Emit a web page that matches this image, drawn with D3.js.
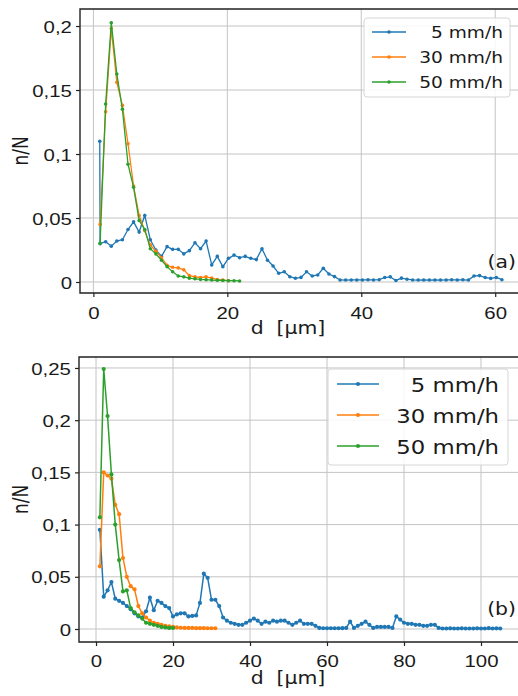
<!DOCTYPE html>
<html>
<head>
<meta charset="utf-8">
<script src="https://cdn.jsdelivr.net/npm/d3@7"></script>
<style>
  body { margin: 0; background: #fff; }
  svg { display: block; font-family: "DejaVu Sans", sans-serif; }
</style>
</head>
<body>
<svg id="chart" width="518" height="696"></svg>
<script>
// ---- data ----
const seriesNames = ['5 mm/h', '30 mm/h', '50 mm/h'];
const colors = ['#1f77b4', '#ff7f0e', '#2ca02c'];

// panel (a): bin centres in µm
const dA = [1.0, 1.83, 2.67, 3.5, 4.33, 5.17, 6.0, 6.83, 7.67, 8.5, 9.33, 10.17, 11.0, 11.83, 12.67,
  13.5, 14.33, 15.17, 16.0, 16.83, 17.67, 18.5, 19.33, 20.17, 21.0, 21.83, 22.67, 23.5, 24.33, 25.17,
  26.0, 26.83, 27.67, 28.5, 29.33, 30.17, 31.0, 31.83, 32.67, 33.5, 34.33, 35.17, 36.0, 36.83, 37.67,
  38.5, 39.33, 40.17, 41.0, 41.83, 42.67, 43.5, 44.33, 45.17, 46.0, 46.83, 47.67, 48.5, 49.33, 50.17,
  51.0, 51.83, 52.67, 53.5, 54.33, 55.17, 56.0, 56.83, 57.67, 58.5, 59.33, 60.17, 61.0];
const dA5 = [0.95].concat(dA);
const nA5 = [0.110, 0.030, 0.0315, 0.028, 0.032, 0.033, 0.041, 0.047, 0.039, 0.052, 0.033, 0.025, 0.020,
  0.0276, 0.0255, 0.0255, 0.022, 0.0245, 0.0307, 0.026, 0.032, 0.0133, 0.020, 0.012, 0.0185, 0.021, 0.019,
  0.020, 0.0185, 0.0175, 0.026, 0.017, 0.0125, 0.0068, 0.008, 0.0041, 0.0029, 0.0036, 0.008, 0.0047,
  0.0055, 0.0107, 0.0062, 0.0042, 0.0016, 0.0015, 0.0016, 0.0016, 0.0016, 0.0017, 0.0016, 0.0018, 0.0035,
  0.004, 0.0012, 0.003, 0.0022, 0.0016, 0.0015, 0.0016, 0.0015, 0.0016, 0.0015, 0.0016, 0.0017, 0.0016,
  0.0017, 0.0015, 0.0047, 0.005, 0.0035, 0.0028, 0.0035, 0.0018];
const nA30 = [0.045, 0.133, 0.198, 0.156, 0.138, 0.108, 0.075, 0.052, 0.040, 0.029, 0.024, 0.019, 0.013,
  0.0115, 0.011, 0.0095, 0.005, 0.004, 0.0035, 0.004, 0.003, 0.002, 0.0015, 0.001];
const nA50 = [0.030, 0.139, 0.2026, 0.1625, 0.135, 0.092, 0.074, 0.048, 0.041, 0.026, 0.022, 0.017, 0.012,
  0.008, 0.0047, 0.004, 0.003, 0.0025, 0.002, 0.0018, 0.0015, 0.0013, 0.0012, 0.001, 0.001, 0.0008];

// panel (b)
const dB = [1, 2, 3, 4, 5, 6, 7, 8, 9, 10, 11, 12, 13, 14, 15, 16, 17, 18, 19, 20, 21, 22, 23, 24, 25,
  26, 27, 28, 29, 30, 31, 32, 33, 34, 35, 36, 37, 38, 39, 40, 41, 42, 43, 44, 45, 46, 47, 48, 49, 50,
  51, 52, 53, 54, 55, 56, 57, 58, 59, 60, 61, 62, 63, 64, 65, 66, 67, 68, 69, 70, 71, 72, 73, 74, 75,
  76, 77, 78, 79, 80, 81, 82, 83, 84, 85, 86, 87, 88, 89, 90, 91, 92, 93, 94, 95, 96, 97, 98, 99, 100,
  101, 102, 103, 104, 105];
const nB5 = [0.095, 0.031, 0.037, 0.045, 0.029, 0.027, 0.025, 0.022, 0.019, 0.015,
  0.012, 0.011, 0.017, 0.030, 0.018, 0.027, 0.025, 0.022, 0.020, 0.012,
  0.014, 0.015, 0.015, 0.012, 0.0125, 0.013, 0.025, 0.053, 0.049, 0.028,
  0.028, 0.022, 0.011, 0.008, 0.006, 0.005, 0.004, 0.004, 0.006, 0.008,
  0.010, 0.008, 0.005, 0.007, 0.006, 0.008, 0.007, 0.008, 0.008, 0.006,
  0.004, 0.006, 0.008, 0.005, 0.005, 0.005, 0.003, 0.001, 0.0007, 0.0007,
  0.0007, 0.0007, 0.0007, 0.0008, 0.001, 0.007, 0.001, 0.003, 0.005, 0.007,
  0.004, 0.001, 0.002, 0.002, 0.002, 0.002, 0.001, 0.012, 0.009, 0.006,
  0.005, 0.005, 0.004, 0.004, 0.003, 0.003, 0.004, 0.004, 0.001, 0.0005,
  0.0005, 0.0006, 0.0005, 0.0005, 0.0006, 0.0005, 0.0005, 0.0005, 0.0006, 0.0005,
  0.0005, 0.0008, 0.0005, 0.0006, 0.0005];
const nB30 = [0.060, 0.150, 0.147, 0.144, 0.119, 0.110, 0.068, 0.050, 0.041, 0.038, 0.022, 0.015, 0.011,
  0.008, 0.006, 0.005, 0.004, 0.003, 0.0025, 0.002, 0.0015, 0.0012, 0.001, 0.001, 0.001, 0.0008, 0.0008,
  0.0008, 0.0007, 0.0007, 0.0007];
const nB50 = [0.107, 0.249, 0.204, 0.148, 0.100, 0.066, 0.036, 0.037, 0.020, 0.016, 0.013, 0.010, 0.006,
  0.005, 0.004, 0.003, 0.002, 0.0015, 0.001, 0.001];

const xTicksA = [0, 20, 40, 60];
const yTicksA = [0, 0.05, 0.1, 0.15, 0.2];
const yLabelsA = ['0', '0,05', '0,1', '0,15', '0,2'];
const xTicksB = [0, 20, 40, 60, 80, 100];
const yTicksB = [0, 0.05, 0.1, 0.15, 0.2, 0.25];
const yLabelsB = ['0', '0,05', '0,1', '0,15', '0,2', '0,25'];

const SX = 1.2; // the picture is stretched sideways, so is the text
const svg = d3.select('#chart');

function panel(cfg) {
  const x = d3.scaleLinear().domain(cfg.xDomain).range([cfg.left, cfg.right]);
  const y = d3.scaleLinear().domain(cfg.yDomain).range([cfg.bottom, cfg.top]);
  const g = svg.append('g');

  // grid
  g.append('g').selectAll('line').data(cfg.xTicks).join('line')
    .attr('x1', d => x(d)).attr('x2', d => x(d))
    .attr('y1', cfg.top).attr('y2', cfg.bottom)
    .attr('stroke', '#c4c4c4').attr('stroke-width', 1);
  g.append('g').selectAll('line').data(cfg.yTicks).join('line')
    .attr('x1', cfg.left).attr('x2', cfg.right)
    .attr('y1', d => y(d)).attr('y2', d => y(d))
    .attr('stroke', '#c4c4c4').attr('stroke-width', 1);

  // series
  const clipId = 'clip' + cfg.id;
  g.append('clipPath').attr('id', clipId).append('rect')
    .attr('x', cfg.left).attr('y', cfg.top)
    .attr('width', cfg.right - cfg.left).attr('height', cfg.bottom - cfg.top);
  const plot = g.append('g').attr('clip-path', `url(#${clipId})`);
  const line = d3.line().x(d => x(d[0])).y(d => y(d[1]));
  cfg.series.forEach((s, i) => {
    const pts = s.d.slice(0, s.n.length).map((d, k) => [d, s.n[k]]);
    plot.append('path').datum(pts)
      .attr('d', line).attr('fill', 'none')
      .attr('stroke', colors[i]).attr('stroke-width', cfg.lw);
    plot.append('g').selectAll('circle').data(pts).join('circle')
      .attr('cx', d => x(d[0])).attr('cy', d => y(d[1]))
      .attr('r', cfg.r).attr('fill', colors[i]);
  });

  // axes
  const ax = g.append('g').attr('transform', `translate(0,${cfg.bottom})`)
    .call(d3.axisBottom(x).tickValues(cfg.xTicks).tickSize(4).tickFormat(d3.format('d')));
  const ay = g.append('g').attr('transform', `translate(${cfg.left},0)`)
    .call(d3.axisLeft(y).tickValues(cfg.yTicks).tickSize(4)
      .tickFormat((d, i) => cfg.yLabels[i]));
  [ax, ay].forEach(a => {
    a.select('.domain').remove();
    a.selectAll('line').attr('stroke', '#222').attr('stroke-width', 1.2);
    a.selectAll('text').attr('fill', '#1a1a1a').style('font-size', '17px')
      .attr('transform', `scale(${SX},1)`);
  });
  ax.selectAll('text').attr('y', cfg.xLabelOffset).attr('dy', 0);
  ay.selectAll('text').attr('x', -6.7).attr('dy', '0.36em');

  // frame (right side runs off the picture)
  g.append('path')
    .attr('d', `M${cfg.right},${cfg.top}H${cfg.left}V${cfg.bottom}H${cfg.right}`)
    .attr('fill', 'none').attr('stroke', '#222').attr('stroke-width', 1.4);

  // axis titles
  g.append('text')
    .attr('transform', `translate(${cfg.yTitleX},${(cfg.top + cfg.bottom) / 2}) scale(${SX},1) rotate(-90)`)
    .attr('text-anchor', 'middle').style('font-size', '17px').attr('fill', '#1a1a1a')
    .text('n/N');
  g.append('text')
    .attr('transform', `translate(288,${cfg.xTitleY}) scale(${SX},1)`)
    .attr('text-anchor', 'middle').style('font-size', '17px').attr('fill', '#1a1a1a')
    .style('white-space', 'pre')
    .text('d  [µm]');
  g.append('text')
    .attr('transform', `translate(516,${cfg.tagY}) scale(${SX},1)`)
    .attr('text-anchor', 'end').style('font-size', '17px').attr('fill', '#1a1a1a')
    .text(cfg.tag);

  // legend
  const L = cfg.legend;
  const lg = g.append('g');
  lg.append('rect')
    .attr('x', L.x).attr('y', L.y).attr('width', L.w).attr('height', L.h)
    .attr('rx', 3).attr('fill', '#fff').attr('fill-opacity', 0.85)
    .attr('stroke', '#d6d6d6').attr('stroke-width', 1);
  seriesNames.forEach((name, i) => {
    const yy = L.rows[i];
    lg.append('line')
      .attr('x1', L.lx1).attr('x2', L.lx2).attr('y1', yy).attr('y2', yy)
      .attr('stroke', colors[i]).attr('stroke-width', cfg.lw);
    lg.append('circle')
      .attr('cx', (L.lx1 + L.lx2) / 2).attr('cy', yy).attr('r', cfg.r).attr('fill', colors[i]);
    lg.append('text')
      .attr('transform', `translate(${L.tx},${yy + L.base}) scale(${SX},1)`)
      .attr('text-anchor', 'end').style('font-size', L.font + 'px').attr('fill', '#1a1a1a')
      .text(name);
  });
}

panel({
  id: 'a', tag: '(a)', tagY: 268,
  left: 80, right: 522, top: 9, bottom: 293,
  xDomain: [-2, 64], yDomain: [-0.0086, 0.2133],
  xTicks: xTicksA, yTicks: yTicksA, yLabels: yLabelsA,
  xLabelOffset: 26, yTitleX: 28, xTitleY: 334, lw: 1.3, r: 1.8,
  series: [{ d: dA5, n: nA5 }, { d: dA, n: nA30 }, { d: dA, n: nA50 }],
  legend: { x: 364, y: 18, w: 146, h: 79, rows: [32, 57, 82], lx1: 372, lx2: 406, tx: 503, base: 6, font: 15.5 }
});

panel({
  id: 'b', tag: '(b)', tagY: 615,
  left: 79, right: 522, top: 357, bottom: 642,
  xDomain: [-4.42, 110.65], yDomain: [-0.01245, 0.2605],
  xTicks: xTicksB, yTicks: yTicksB, yLabels: yLabelsB,
  xLabelOffset: 25, yTitleX: 28, xTitleY: 684, lw: 1.5, r: 2.1,
  series: [{ d: dB, n: nB5 }, { d: dB, n: nB30 }, { d: dB, n: nB50 }],
  legend: { x: 328, y: 369, w: 180, h: 96, rows: [384, 415, 446], lx1: 337, lx2: 379, tx: 499, base: 8, font: 19 }
});
</script>
</body>
</html>
